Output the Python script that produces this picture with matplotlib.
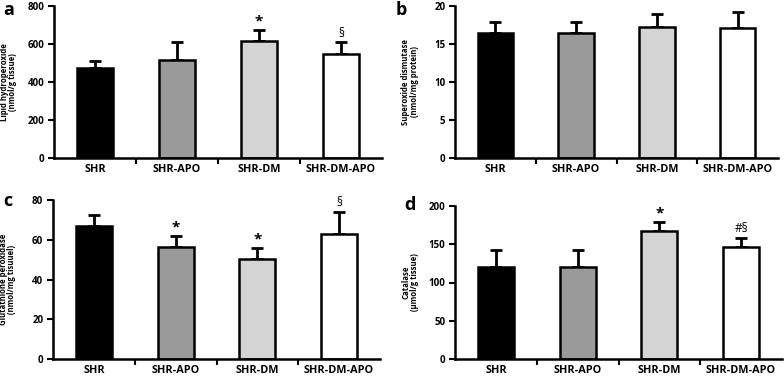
import matplotlib
matplotlib.use("Agg")
import matplotlib.pyplot as plt
from matplotlib.ticker import FixedLocator

plt.rcParams['font.family'] = ['Open Sans', 'DejaVu Sans']
plt.rcParams['font.weight'] = 'bold'

groups = ['SHR', 'SHR-APO', 'SHR-DM', 'SHR-DM-APO']
bar_colors = ['#000000', '#9a9a9a', '#d4d4d4', '#ffffff']

lipid = [472, 518, 618, 545]
lipid_err = [40, 90, 58, 63]
lipid_marks = ['', '', '*', '§']

sod = [16.4, 16.5, 17.3, 17.15]
sod_err = [1.45, 1.4, 1.7, 2.05]
sod_marks = ['', '', '', '']

gpx = [67.1, 56.3, 50.3, 62.9]
gpx_err = [5.3, 5.7, 5.8, 11.0]
gpx_marks = ['', '*', '*', '§']

cat = [120.6, 119.7, 167.0, 145.8]
cat_err = [21.7, 22.6, 12.6, 12.1]
cat_marks = ['', '', '*', '#§']

W, H = 784, 376
fig = plt.figure(figsize=(W / 100, H / 100), dpi=100)


def px_axes(left, top, right, bottom):
    return fig.add_axes([left / W, 1 - bottom / H, (right - left) / W, (bottom - top) / H])


def panel(ax, vals, errs, marks, ymax, ystep, ylabel, ylab_x):
    x = range(len(groups))
    ax.bar(x, vals, width=0.44, color=bar_colors, edgecolor='black', linewidth=1.8, zorder=2)
    ax.errorbar(x, vals, yerr=[[0] * len(vals), errs], fmt='none', ecolor='black',
                elinewidth=2.0, capsize=4.5, capthick=2.0, zorder=1)
    for i, m in enumerate(marks):
        if m:
            star = m == '*'
            ax.annotate(m, (i, vals[i] + errs[i]), xytext=(0, 1.0 if star else 2.0),
                        textcoords='offset points', ha='center', va='bottom',
                        fontsize=11 if star else 8.5,
                        fontweight='bold' if star else 'normal')
    ax.set_xlim(-0.5, 3.5)
    ax.set_ylim(0, ymax)
    ax.set_yticks([ystep * k for k in range(int(ymax / ystep) + 1)])
    ax.set_xticks(list(x))
    ax.set_xticklabels(groups, fontsize=7.8, fontweight='bold')
    ax.tick_params(axis='x', which='major', length=0, pad=4)
    ax.xaxis.set_minor_locator(FixedLocator([0.5, 1.5, 2.5]))
    ax.tick_params(axis='x', which='minor', length=4, width=1.5, direction='out')
    ax.tick_params(axis='y', length=4, width=1.5, labelsize=7, pad=3)
    for lab in ax.get_yticklabels():
        lab.set_fontweight('bold')
    for s in ['top', 'right']:
        ax.spines[s].set_visible(False)
    for s in ['left', 'bottom']:
        ax.spines[s].set_linewidth(1.8)
    ax.set_ylabel(ylabel, fontsize=5.6, fontweight='bold', linespacing=0.95)
    ax.yaxis.set_label_coords(ylab_x, 0.5)


ax_a = px_axes(54, 6, 382, 158)
panel(ax_a, lipid, lipid_err, lipid_marks, 800, 200,
      'Lipid hydroperoxide\n(nmol/g tissue)', -0.112)

ax_b = px_axes(455, 6, 778, 158)
panel(ax_b, sod, sod_err, sod_marks, 20, 5,
      'Superoxide dismutase\n(nmol/mg protein)', -0.111)

ax_c = px_axes(53, 200, 380, 359)
panel(ax_c, gpx, gpx_err, gpx_marks, 80, 20,
      'Glutathione peroxidase\n(nmol/mg tisuuel)', -0.112)

ax_d = px_axes(455, 206, 782, 359)
panel(ax_d, cat, cat_err, cat_marks, 200, 50,
      'Catalase\n(µmol/g tissue)', -0.110)

# panel letters, placed in figure pixels
for letter, lx, ly in [('a', 9, 10), ('b', 401, 10), ('c', 8, 201), ('d', 410, 205)]:
    fig.text(lx / W, 1 - ly / H, letter, fontsize=13, fontweight='bold',
             ha='center', va='center')

fig.savefig('out.png', dpi=100)
